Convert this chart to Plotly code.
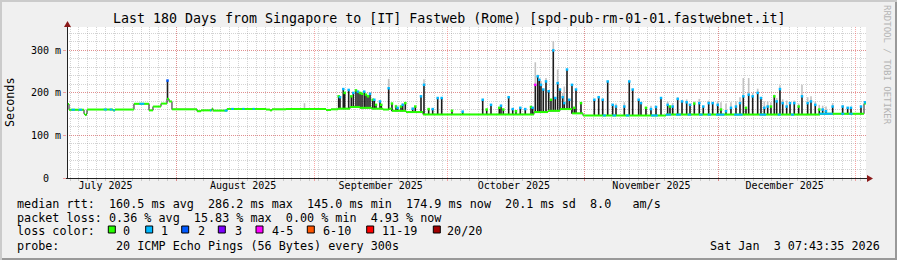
import numpy as np
import pandas as pd
import plotly.graph_objects as go

# ---------------- data ----------------
START = pd.Timestamp("2025-07-07 07:43:35")
END = pd.Timestamp("2026-01-03 07:43:35")

month_starts = ["2025-08-01", "2025-09-01", "2025-10-01", "2025-11-01", "2025-12-01", "2026-01-01"]
month_label_pos = ["2025-07-16", "2025-08-16", "2025-09-16", "2025-10-16", "2025-11-16", "2025-12-16"]
month_labels = ["July 2025", "August 2025", "September 2025", "October 2025", "November 2025", "December 2025"]

y_tickvals = [0, 100, 200, 300]
y_ticktext = ["0\u00a0\u00a0", "100 m", "200 m", "300 m"]

# median RTT step function: interval edges (days since start) and values (ms)
med_day = [0, 0.45, 3.83, 4.05, 4.39, 4.51, 10.36, 10.81, 15.09, 18.47, 19.37, 21.18, 22.53, 22.98,
           23.65, 29.29, 30.19, 32.66, 32.89, 36.04, 44.83, 45.73, 46.18, 49.34, 58.35, 59.47, 61.05,
           63.75, 66.01, 68.71, 71.19, 72.54, 73.21, 76.37, 80.20, 105.20, 108.36, 111.06, 113.76,
           116.24, 134.93, 169.63, 179.55, 180.0]
med_ms = [174, 160.5, 151, 148, 151, 161, 159, 161, 174.5, 159, 168, 175, 186, 180,
          161.5, 157, 159, 163, 158.5, 162.5, 161, 159, 161.5, 162, 160, 161.5, 163,
          167, 165, 163, 161, 163, 158, 155, 149.5, 155, 158, 162, 152,
          147, 149, 151, 175]

# intervals (days) where the median is drawn in the "1 lost" colour
loss1_start = [1.0, 2.6, 8.3, 9.6, 10.4, 16.3, 32.2, 35.5, 37.0, 39.5, 41.8, 120.7, 122.9, 125.9,
               131.6, 134.9, 137.2, 139.8, 142.4, 144.3, 146.2, 150.3, 156.0, 160.1, 163.1, 169.5,
               174.4, 176.2]
loss1_end = [1.8, 3.4, 9.0, 10.2, 10.8, 17.4, 32.5, 36.2, 37.6, 40.0, 42.3, 121.4, 123.7, 126.7,
             133.1, 136.1, 138.3, 140.6, 143.2, 145.1, 148.1, 152.2, 157.5, 160.8, 163.8, 172.5,
             175.1, 177.0]

# smoke spikes: time (days since start), dark smoke top (ms), light smoke top (ms), loss bin at top
spike_day = [22.64, 53.5,
             61.21, 61.50, 62.24, 62.56, 63.46, 64.05, 64.50, 65.10, 65.56, 66.01, 66.46, 66.97, 67.36,
             67.81, 68.26, 68.87, 69.23, 69.61, 70.51, 70.80, 72.47, 73.21, 74.12, 74.50, 75.24, 75.62,
             76.21, 77.88, 78.46, 79.75, 80.42, 81.48, 82.38, 83.51, 84.41, 86.73, 89.14,
             93.65, 94.55, 95.52, 97.39, 97.77, 98.29, 99.50, 100.41, 101.15, 102.12, 103.24, 104.53, 104.91,
             105.50, 106.04, 106.40, 106.78, 107.30, 107.91, 108.52, 109.03, 109.55, 110.00, 110.54, 111.06,
             111.67, 112.03, 112.64, 113.16, 113.76, 114.28, 114.67, 115.79,
             118.79, 119.78, 120.68, 121.81, 122.93, 123.68, 125.55, 126.67, 127.44, 128.79, 129.31, 130.43,
             131.56, 132.69, 133.82,
             135.32, 135.84, 136.45, 137.58, 138.55, 139.60, 140.35, 141.32, 142.44, 143.34, 144.56, 145.46,
             146.59, 147.33, 148.46, 149.58, 150.71, 151.61, 152.36, 152.96, 153.57, 154.47, 155.60, 156.34,
             157.09, 157.85, 158.59, 159.34, 159.88, 160.62, 161.23, 162.13, 162.88, 163.84, 164.83, 165.58,
             166.86, 167.61, 168.57, 169.47, 170.24, 170.98, 172.49, 174.74, 175.87, 176.62, 178.87, 179.77]
spike_top = [229, 162,
             192, 190, 209, 200, 207, 192, 200, 206, 203, 200, 198, 203, 196,
             192, 198, 184, 184, 172, 180, 172, 211, 175, 168, 165, 168, 172,
             176, 163, 168, 192, 219, 162, 162, 188, 188, 158, 156,
             184, 161, 172, 165, 170, 161, 190, 162, 157, 165, 162, 167, 165,
             219, 239, 231, 219, 208, 227, 204, 184, 300, 188, 223, 208,
             190, 176, 255, 184, 219, 165, 208, 176,
             184, 190, 184, 227, 172, 168, 168, 227, 208, 184, 176, 165,
             162, 167, 188,
             172, 168, 168, 186, 180, 178, 172, 175, 176, 168, 176, 176,
             172, 161, 157, 165, 168, 176, 192, 165, 196, 192, 200, 188,
             165, 168, 168, 192, 180, 209, 176, 168, 176, 176, 168, 192,
             176, 180, 172, 161, 161, 157, 168, 168, 165, 165, 168, 178]
spike_gray = [None, 176,
              None, None, None, None, None, None, None, None, None, None, None, None, None,
              None, None, None, None, None, None, None, 233, None, 172, None, None, 176,
              None, None, None, None, 232, None, None, None, None, None, None,
              None, None, None, None, None, None, None, None, None, None, None, None, None,
              272, 243, None, 228, None, 235, None, None, 322, None, 255, None,
              200, 215, None, None, None, None, None, None,
              None, None, None, None, None, 175, 178, None, None, None, None, None,
              170, None, None,
              180, None, 176, 190, None, 185, None, 180, 186, None, 182, None,
              180, 178, 175, 178, 180, 190, 235, None, 235, 200, 210, None,
              180, 180, 178, 196, 188, 218, 185, 182, None, 182, 175, 219,
              190, 192, 180, 172, 170, 168, 176, 172, None, None, None, None]
spike_loss = [2, -1,
              0, 1, 1, 0, 1, 0, 1, 0, 1, 0, 0, 1, 0,
              0, 1, 0, 1, 0, 1, 0, 1, 0, 0, 1, 0, 1,
              0, 1, 0, 1, 1, 0, 1, 1, 1, 0, 1,
              1, 0, 1, 0, 1, 0, 1, 1, 0, 1, 1, 0, 1,
              4, 1, 1, 1, 1, 1, 1, 0, 1, 1, 1, 1,
              1, 1, 1, 1, 1, 0, 1, 0,
              1, 1, 1, 1, 1, 1, 1, 1, 1, 1, 1, 0,
              1, 1, 1,
              1, 0, 1, 1, 1, 1, 1, 0, 1, 1, 1, 1,
              1, 0, 1, 1, 1, 1, 1, 0, 1, 1, 1, 1,
              1, 1, 0, 0, 1, 1, 1, 1, 1, 1, 0, 1,
              1, 1, 1, 0, 1, 1, 1, 1, 1, 1, 1, 1]

loss_labels = ["0", "1", "2", "3", "4-5", "6-10", "11-19", "20/20"]
loss_colors = ["#26ff00", "#00b8ff", "#0059ff", "#7e00ff", "#ff00ff", "#ff5500", "#ff0000", "#a00000"]

legend_line1 = "median rtt:  160.5 ms avg  286.2 ms max  145.0 ms min  174.9 ms now  20.1 ms sd  8.0   am/s"
legend_line2 = "packet loss: 0.36 % avg  15.83 % max  0.00 % min  4.93 % now"
legend_line3 = "loss color:"
legend_line4 = "probe:        20 ICMP Echo Pings (56 Bytes) every 300s"
stamp = "Sat Jan  3 07:43:35 2026"
title = "Last 180 Days from Singapore to [IT] Fastweb (Rome) [spd-pub-rm-01-01.fastwebnet.it]"

# ---------------- helpers ----------------
W, H = 897, 260
PL, PR, PT, PB = 67, 866, 27, 178


def ts(d):
    return (START + pd.Timedelta(days=float(d))).strftime("%Y-%m-%d %H:%M:%S")


med_day_a = np.array(med_day)
med_ms_a = np.array(med_ms, dtype=float)


def med_at(d):
    i = int(np.searchsorted(med_day_a, d, side="right") - 1)
    i = max(0, min(i, len(med_ms_a) - 1))
    return med_ms_a[i]


def px(x):
    return (x - PL) / (PR - PL)


def py(y):
    return (PB - y) / (PB - PT)


nb = lambda s: s.replace(" ", "\u00a0")

fig = go.Figure()

# light smoke
gx, gy = [], []
for d, top, g in zip(spike_day, spike_top, spike_gray):
    if g is not None:
        gx += [ts(d), ts(d), None]
        gy += [top, g, None]
fig.add_trace(go.Scatter(x=gx, y=gy, mode="lines", line=dict(color="#c2c2c2", width=1.6),
                         hoverinfo="skip", showlegend=False))

# dark smoke
bx, by = [], []
for d, top in zip(spike_day, spike_top):
    base = med_at(d)
    if top > base:
        bx += [ts(d), ts(d), None]
        by += [base - 1, top, None]
fig.add_trace(go.Scatter(x=bx, y=by, mode="lines", line=dict(color="#1c1c1c", width=1.6),
                         hoverinfo="skip", showlegend=False))

# median step connectors (dark)
fig.add_trace(go.Scatter(x=[ts(d) for d in med_day], y=med_ms + [med_ms[-1]], mode="lines",
                         line=dict(color="#1c1c1c", width=1, shape="hv"),
                         hoverinfo="skip", showlegend=False))

# median horizontal pieces, loss 0 colour
hx, hy = [], []
for i, v in enumerate(med_ms):
    hx += [ts(med_day[i]), ts(med_day[i + 1]), None]
    hy += [v, v, None]
fig.add_trace(go.Scatter(x=hx, y=hy, mode="lines", line=dict(color=loss_colors[0], width=2),
                         hoverinfo="skip", showlegend=False))

# median pieces with 1 lost ping
cx, cy = [], []
for a, b in zip(loss1_start, loss1_end):
    v = med_at((a + b) / 2)
    cx += [ts(a), ts(b), None]
    cy += [v, v, None]
fig.add_trace(go.Scatter(x=cx, y=cy, mode="lines", line=dict(color=loss_colors[1], width=2),
                         hoverinfo="skip", showlegend=False))

# spike tops coloured by loss
mx, my, mc = [], [], []
for d, top, l in zip(spike_day, spike_top, spike_loss):
    if l >= 0:
        mx.append(ts(d))
        my.append(top)
        mc.append(loss_colors[l])
fig.add_trace(go.Scatter(x=mx, y=my, mode="markers",
                         marker=dict(symbol="square", size=2.5, color=mc, line=dict(width=0)),
                         hoverinfo="skip", showlegend=False))

# dummy trace for label axis
fig.add_trace(go.Scatter(x=[ts(0), ts(180)], y=[0, 0], xaxis="x2", mode="lines",
                         line=dict(width=0), opacity=0, hoverinfo="skip", showlegend=False))

xr = [START.strftime("%Y-%m-%d %H:%M:%S"), END.strftime("%Y-%m-%d %H:%M:%S")]
MG = "rgba(240,60,60,0.45)"
mg = "rgba(130,130,130,0.35)"

fig.update_layout(
    width=W, height=H,
    margin=dict(l=PL, r=W - PR, t=PT, b=H - PB, pad=0),
    paper_bgcolor="#f0f0f0", plot_bgcolor="#ffffff",
    showlegend=False,
    font=dict(family="DejaVu Sans Mono", size=10, color="#000000"),
    xaxis=dict(type="date", range=xr, tickmode="array", tickvals=month_starts,
               ticktext=[""] * len(month_starts), showgrid=True, gridcolor=MG, griddash="1px,1px",
               gridwidth=1, ticks="outside", ticklen=2, tickcolor=MG, showline=False, zeroline=False,
               minor=dict(tick0="2025-08-01", dtick=2 * 86400000, showgrid=True, gridcolor=mg,
                          griddash="1px,1px", gridwidth=1, ticks="outside", ticklen=2, tickcolor=mg),
               fixedrange=True),
    xaxis2=dict(type="date", range=xr, overlaying="x", anchor="y", side="bottom", tickmode="array",
                tickvals=month_label_pos, ticktext=month_labels, showgrid=False, ticks="",
                showline=False, zeroline=False, tickfont=dict(size=10), fixedrange=True),
    yaxis=dict(range=[0, 355], tickmode="array", tickvals=y_tickvals, ticktext=y_ticktext,
               showgrid=True, gridcolor=MG, griddash="1px,1px", gridwidth=1, ticks="outside",
               ticklen=3, tickcolor=MG, zeroline=False, showline=False, tickfont=dict(size=10),
               minor=dict(dtick=20, showgrid=True, gridcolor=mg, griddash="1px,1px", gridwidth=1),
               fixedrange=True),
)

shapes = []
# frame shading
shapes.append(dict(type="rect", xref="paper", yref="paper", x0=px(0), x1=px(W), y0=py(0), y1=py(2),
                   fillcolor="#cbcbcb", line=dict(width=0), layer="above"))
shapes.append(dict(type="rect", xref="paper", yref="paper", x0=px(0), x1=px(2), y0=py(0), y1=py(H),
                   fillcolor="#cbcbcb", line=dict(width=0), layer="above"))
shapes.append(dict(type="rect", xref="paper", yref="paper", x0=px(2), x1=px(W), y0=py(H - 2), y1=py(H),
                   fillcolor="#999999", line=dict(width=0), layer="above"))
shapes.append(dict(type="rect", xref="paper", yref="paper", x0=px(W - 2), x1=px(W), y0=py(2), y1=py(H),
                   fillcolor="#999999", line=dict(width=0), layer="above"))
# axes
shapes.append(dict(type="line", xref="paper", yref="paper", x0=px(PL + 0.5), x1=px(PL + 0.5),
                   y0=py(PB + 1), y1=py(24), line=dict(color="#222222", width=1), layer="above"))
shapes.append(dict(type="line", xref="paper", yref="paper", x0=px(PL - 1), x1=px(869),
                   y0=py(PB + 0.5), y1=py(PB + 0.5), line=dict(color="#222222", width=1), layer="above"))
# arrows
shapes.append(dict(type="path", xref="paper", yref="paper",
                   path=f"M {px(PL + 0.5)},{py(21)} L {px(64)},{py(27)} L {px(71)},{py(27)} Z",
                   fillcolor="#8b1a1a", line=dict(width=0), layer="above"))
shapes.append(dict(type="path", xref="paper", yref="paper",
                   path=f"M {px(873)},{py(PB + 0.5)} L {px(867)},{py(175)} L {px(867)},{py(182)} Z",
                   fillcolor="#8b1a1a", line=dict(width=0), layer="above"))
# loss colour boxes
box_x = [108.3, 145.7, 181.7, 218.3, 256, 307.3, 366.7, 433.3]
lab_x = [122.7, 160.7, 197.7, 234, 271, 322, 381.7, 446]
for bxp, col in zip(box_x, loss_colors):
    shapes.append(dict(type="rect", xref="paper", yref="paper", x0=px(bxp), x1=px(bxp + 7),
                       y0=py(226), y1=py(233), fillcolor=col, line=dict(color="#000000", width=1),
                       layer="above"))
fig.update_layout(shapes=shapes)

ann = []
LF = 11.75


def A(x, y, text, size=LF, xanchor="left", angle=0, color="#000000"):
    ann.append(dict(xref="paper", yref="paper", x=px(x), y=py(y), text=nb(text), showarrow=False,
                    xanchor=xanchor, yanchor="middle", textangle=angle,
                    font=dict(family="DejaVu Sans Mono", size=size, color=color), borderpad=0))


A(448.5, 18.5, title, size=13.3, xanchor="center")
A(10, 102, "Seconds", xanchor="center", angle=-90)
A(887, 65, "RRDTOOL / TOBI OETIKER", size=9, xanchor="center", angle=90, color="#b4b4b4")
A(16, 203.7, legend_line1)
A(16, 217.8, legend_line2)
A(16, 230.8, legend_line3)
A(16, 245.5, legend_line4)
A(881, 245.5, stamp, xanchor="right")
for lx, lab in zip(lab_x, loss_labels):
    A(lx - 0.5, 230.8, lab)
fig.update_layout(annotations=ann)

fig.write_html("out.html")
